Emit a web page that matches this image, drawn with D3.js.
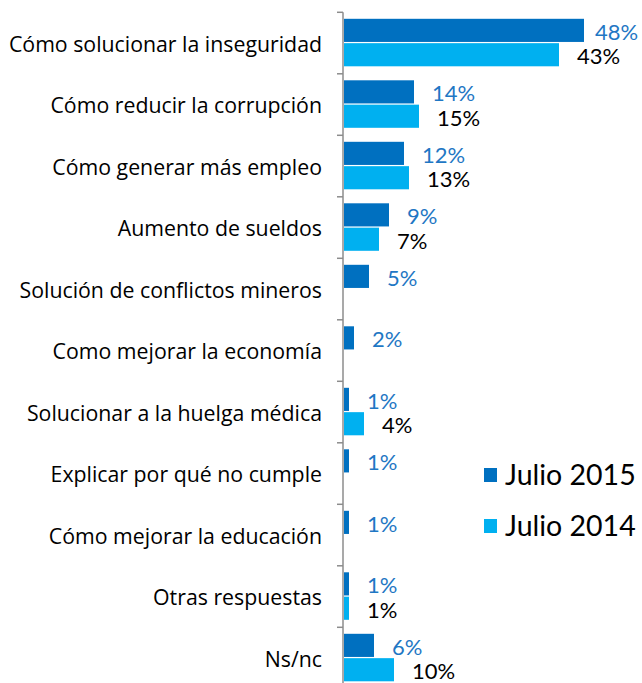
<!DOCTYPE html>
<html>
<head>
<meta charset="utf-8">
<script src="https://cdn.jsdelivr.net/npm/d3@7"></script>
<style>
  html, body { margin: 0; padding: 0; background: #fff; }
  svg { display: block; font-family: Lato, "Open Sans", sans-serif; }
</style>
</head>
<body>
<svg id="chart" width="642" height="683"></svg>
<script>
const categories = [
  'Cómo solucionar la inseguridad',
  'Cómo reducir la corrupción',
  'Cómo generar más empleo',
  'Aumento de sueldos',
  'Solución de conflictos mineros',
  'Como mejorar la economía',
  'Solucionar a la huelga médica',
  'Explicar por qué no cumple',
  'Cómo mejorar la educación',
  'Otras respuestas',
  'Ns/nc'
];
const series = ['Julio 2015', 'Julio 2014'];
const julio2015 = [48, 14, 12, 9, 5, 2, 1, 1, 1, 1, 6];
const julio2014 = [43, 15, 13, 7, null, null, 4, null, null, 1, 10];

const colors = { 'Julio 2015': '#0070c0', 'Julio 2014': '#00b0f0' };
const labelColors = { 'Julio 2015': '#1f77c4', 'Julio 2014': '#000' };

const svg = d3.select('#chart');
const x0 = 344;
const bandH = 61.5;
const plotTop = 12.3;

const x = d3.scaleLinear([0, 59], [x0, 639]);
const y = d3.scaleBand(categories, [plotTop, plotTop + bandH * categories.length]).padding(0);
const ySub = d3.scaleBand(series, [6.5, bandH - 7.5]).paddingInner(0.05);

const rows = categories.map((c, i) => ({ cat: c, vals: [
  { s: 'Julio 2015', v: julio2015[i] },
  { s: 'Julio 2014', v: julio2014[i] }
].filter(d => d.v != null) }));

// category axis, ticks drawn between bands
const axis = svg.append('g').attr('transform', `translate(${x0 - 1},0)`)
  .call(d3.axisLeft(y).tickSize(0).tickPadding(21));
axis.select('.domain').remove();
axis.selectAll('text').attr('font-size', 21.3).attr('fill', '#000')
  .attr('font-family', '"Open Sans", sans-serif').attr('dy', '0.4em');
svg.append('line').attr('x1', x0 - 1).attr('x2', x0 - 1)
  .attr('y1', plotTop).attr('y2', 683).attr('stroke', '#8c8c8c').attr('stroke-width', 1.5);
svg.append('g').selectAll('line').data(categories).join('line')
  .attr('x1', x0 - 7).attr('x2', x0 - 1)
  .attr('y1', d => y(d)).attr('y2', d => y(d))
  .attr('stroke', '#8c8c8c').attr('stroke-width', 1.5);

const groups = svg.append('g').selectAll('g').data(rows).join('g')
  .attr('transform', d => `translate(0,${y(d.cat)})`);

groups.selectAll('rect').data(d => d.vals).join('rect')
  .attr('x', x(0))
  .attr('y', d => ySub(d.s))
  .attr('width', d => x(d.v) - x(0))
  .attr('height', ySub.bandwidth())
  .attr('fill', d => colors[d.s]);

groups.selectAll('text').data(d => d.vals).join('text')
  .attr('x', d => Math.min(x(d.v) + 18, 595))
  .attr('y', d => ySub(d.s) + ySub.bandwidth() / 2 + 1.5)
  .attr('dy', '0.36em')
  .attr('font-size', 22)
  .attr('fill', d => labelColors[d.s])
  .text(d => d.v + '%');

// legend
const legend = svg.append('g').selectAll('g').data(series).join('g')
  .attr('transform', (d, i) => `translate(484,${468 + i * 51})`);
legend.append('rect').attr('width', 13).attr('height', 14).attr('fill', d => colors[d]);
legend.append('text').attr('x', 21).attr('y', 7).attr('dy', '0.36em')
  .attr('font-size', 28.5).attr('fill', '#000').text(d => d);
</script>
</body>
</html>
